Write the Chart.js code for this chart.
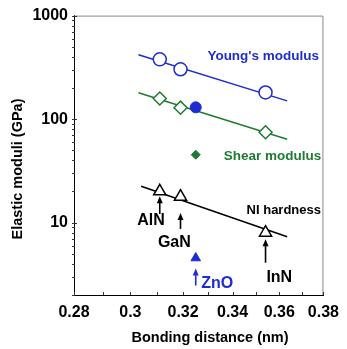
<html>
<head>
<meta charset="utf-8">
<script src="https://cdn.jsdelivr.net/npm/chart.js"></script>
<style>
  body { margin: 0; background: #fff; }
  #wrap { width: 347px; height: 349px; }
</style>
</head>
<body>
<div id="wrap"><canvas id="myChart" width="347" height="349"></canvas></div>
<script>
    // values
    const compounds = ['AlN', 'GaN', 'InN'];
    const bondNitride = [0.311, 0.319, 0.354];
    const youngNitride = [378, 303, 181];
    const shearNitride = [158, 129, 74.7];
    const hardNitride = [20.1, 17.8, 8.0];

    // ZnO (filled marks)
    const bondZnO = [0.325];
    const youngZnO = [130];
    const shearZnO = [45.3];
    const hardZnO = [4.55];

    // fitted lines (end points)
    const fitX = [0.303, 0.3635];
    const youngFit = [419, 150];
    const shearFit = [180, 64];
    const hardFitX = [0.304, 0.3635];
    const hardFit = [22.5, 7.3];

    // axis ticks
    const xTicks = [0.28, 0.29, 0.30, 0.31, 0.32, 0.33, 0.34, 0.35, 0.36, 0.37, 0.38];
    const xLabels = {0.28: '0.28', 0.3: '0.3', 0.32: '0.32', 0.34: '0.34', 0.36: '0.36', 0.38: '0.38'};
    const yTicks = [2, 3, 4, 5, 6, 7, 8, 9, 10, 20, 30, 40, 50, 60, 70, 80, 90,
                    100, 200, 300, 400, 500, 600, 700, 800, 900, 1000];
    const yLabels = {10: '10', 100: '100', 1000: '1000'};
    const xTitle = 'Bonding distance (nm)';
    const yTitle = 'Elastic moduli (GPa)';

    // text labels and arrows (data coordinates)
    const textNames = ["Young's modulus", 'Shear modulus', 'NI hardness', 'AlN', 'GaN', 'InN', 'ZnO'];
    const textX = [0.353, 0.357, 0.362, 0.3077, 0.3166, 0.360, 0.3337];
    const textY = [407, 43.7, 13.2, 10.4, 6.43, 2.97, 2.58];
    const textColor = ['#1f2ccf', '#1f7a35', '#000', '#000', '#000', '#000', '#1f2ccf'];
    const textSize = [13.5, 13.5, 13, 16, 16, 16, 16];

    const arrowX = [0.311, 0.319, 0.354, 0.325];
    const arrowFrom = [12.1, 8.7, 4.1, 2.47];
    const arrowTo = [18.0, 12.4, 6.9, 3.6];
    const arrowColor = ['#000', '#000', '#000', '#1f2ccf'];

    const blue = '#1f2ccf';
    const green = '#1f7a35';

    function pts(xs, ys) {
        return xs.map(function(x, i) { return {x: x, y: ys[i]}; });
    }

    const fontFam = 'Arial, "Liberation Sans", sans-serif';

    // 틀, 안쪽 눈금, 화살표, 글씨
    const extras = {
        id: 'extras',
        afterDraw(chart) {
            const c = chart.ctx;
            const a = chart.chartArea;
            const xs = chart.scales.x, ys = chart.scales.y;
            c.save();
            c.strokeStyle = '#888';
            c.lineWidth = 1;
            c.beginPath();
            c.moveTo(a.left, a.top + 0.5);
            c.lineTo(a.right - 0.5, a.top + 0.5);
            c.lineTo(a.right - 0.5, a.bottom);
            c.stroke();

            // small ticks inside
            c.strokeStyle = '#333';
            c.beginPath();
            xTicks.forEach(function(v) {
                const px = Math.round(xs.getPixelForValue(v)) + 0.5;
                c.moveTo(px, a.bottom);
                c.lineTo(px, a.bottom - 3);
            });
            yTicks.forEach(function(v) {
                const py = Math.round(ys.getPixelForValue(v)) + 0.5;
                const len = yLabels[v] ? 5 : 3;
                c.moveTo(a.left - 2, py);
                c.lineTo(a.left + len - 2, py);
            });
            c.stroke();

            // arrows
            arrowX.forEach(function(v, i) {
                const px = xs.getPixelForValue(v);
                const y0 = ys.getPixelForValue(arrowFrom[i]);
                const y1 = ys.getPixelForValue(arrowTo[i]);
                c.strokeStyle = arrowColor[i];
                c.fillStyle = arrowColor[i];
                c.lineWidth = 1.6;
                c.beginPath();
                c.moveTo(px, y0);
                c.lineTo(px, y1 + 4);
                c.stroke();
                c.beginPath();
                c.moveTo(px, y1);
                c.lineTo(px - 3, y1 + 7);
                c.lineTo(px + 3, y1 + 7);
                c.closePath();
                c.fill();
            });

            // labels
            c.textAlign = 'center';
            c.textBaseline = 'middle';
            textNames.forEach(function(t, i) {
                c.fillStyle = textColor[i];
                c.font = 'bold ' + textSize[i] + 'px ' + fontFam;
                c.fillText(t, xs.getPixelForValue(textX[i]), ys.getPixelForValue(textY[i]));
            });

            // axis titles
            c.fillStyle = '#000';
            c.font = 'bold 14.5px ' + fontFam;
            c.fillText(xTitle, 210, 338);
            c.translate(18, 169);
            c.rotate(-Math.PI / 2);
            c.fillText(yTitle, 0, 0);
            c.restore();
        }
    };

    const ctx = document.getElementById('myChart');
    let chart = new Chart(ctx, {
        type: 'scatter',
        data: {
            datasets: [
                { data: pts(fitX, youngFit), showLine: true, borderColor: blue, borderWidth: 1.5, pointRadius: 0, order: 3 },
                { data: pts(fitX, shearFit), showLine: true, borderColor: green, borderWidth: 1.5, pointRadius: 0, order: 3 },
                { data: pts(hardFitX, hardFit), showLine: true, borderColor: '#000', borderWidth: 1.5, pointRadius: 0, order: 3 },
                { data: pts(bondNitride, youngNitride), pointStyle: 'circle', pointRadius: 6.5, borderColor: blue, backgroundColor: '#fff', borderWidth: 1.5, order: 1 },
                { data: pts(bondNitride, shearNitride), pointStyle: 'rectRot', pointRadius: 6.5, borderColor: green, backgroundColor: '#fff', borderWidth: 1.5, order: 1 },
                { data: pts(bondNitride, hardNitride), pointStyle: 'triangle', pointRadius: 7, borderColor: '#000', backgroundColor: '#fff', borderWidth: 1.5, order: 1 },
                { data: pts(bondZnO, youngZnO), pointStyle: 'circle', pointRadius: 5.5, borderColor: blue, backgroundColor: blue, borderWidth: 1, order: 1 },
                { data: pts(bondZnO, shearZnO), pointStyle: 'rectRot', pointRadius: 4.5, borderColor: green, backgroundColor: green, borderWidth: 1, order: 1 },
                { data: pts(bondZnO, hardZnO), pointStyle: 'triangle', pointRadius: 5.5, borderColor: blue, backgroundColor: blue, borderWidth: 1, order: 1 }
            ]
        },
        options: {
            responsive: false,
            animation: false,
            events: [],
            layout: { padding: { top: 13, right: 17, left: 0, bottom: 0 } },
            plugins: { legend: { display: false }, tooltip: { enabled: false } },
            scales: {
                x: {
                    type: 'logarithmic',
                    min: 0.28,
                    max: 0.38,
                    afterBuildTicks: function(scale) {
                        scale.ticks = xTicks.map(function(v) { return {value: v}; });
                    },
                    afterFit: function(scale) { scale.height = 54; },
                    grid: { display: false, drawTicks: false },
                    border: { display: true, color: '#000', width: 1 },
                    ticks: {
                        autoSkip: false,
                        maxRotation: 0,
                        padding: 8,
                        color: '#000',
                        font: { family: fontFam, size: 16, weight: 'bold' },
                        callback: function(v) {
                            const k = Math.round(v * 100) / 100;
                            return xLabels[k] || '';
                        }
                    },
                    title: { display: false }
                },
                y: {
                    type: 'logarithmic',
                    min: 2,
                    max: 1000,
                    afterBuildTicks: function(scale) {
                        scale.ticks = yTicks.map(function(v) { return {value: v}; });
                    },
                    afterFit: function(scale) { scale.width = 74; },
                    grid: { display: false, drawTicks: false },
                    border: { display: true, color: '#000', width: 1 },
                    ticks: {
                        autoSkip: false,
                        padding: 6,
                        color: '#000',
                        font: { family: fontFam, size: 16, weight: 'bold' },
                        callback: function(v) {
                            return yLabels[Math.round(v)] || '';
                        }
                    },
                    title: { display: false }
                }
            }
        },
        plugins: [extras]
    });
</script>
</body>
</html>
